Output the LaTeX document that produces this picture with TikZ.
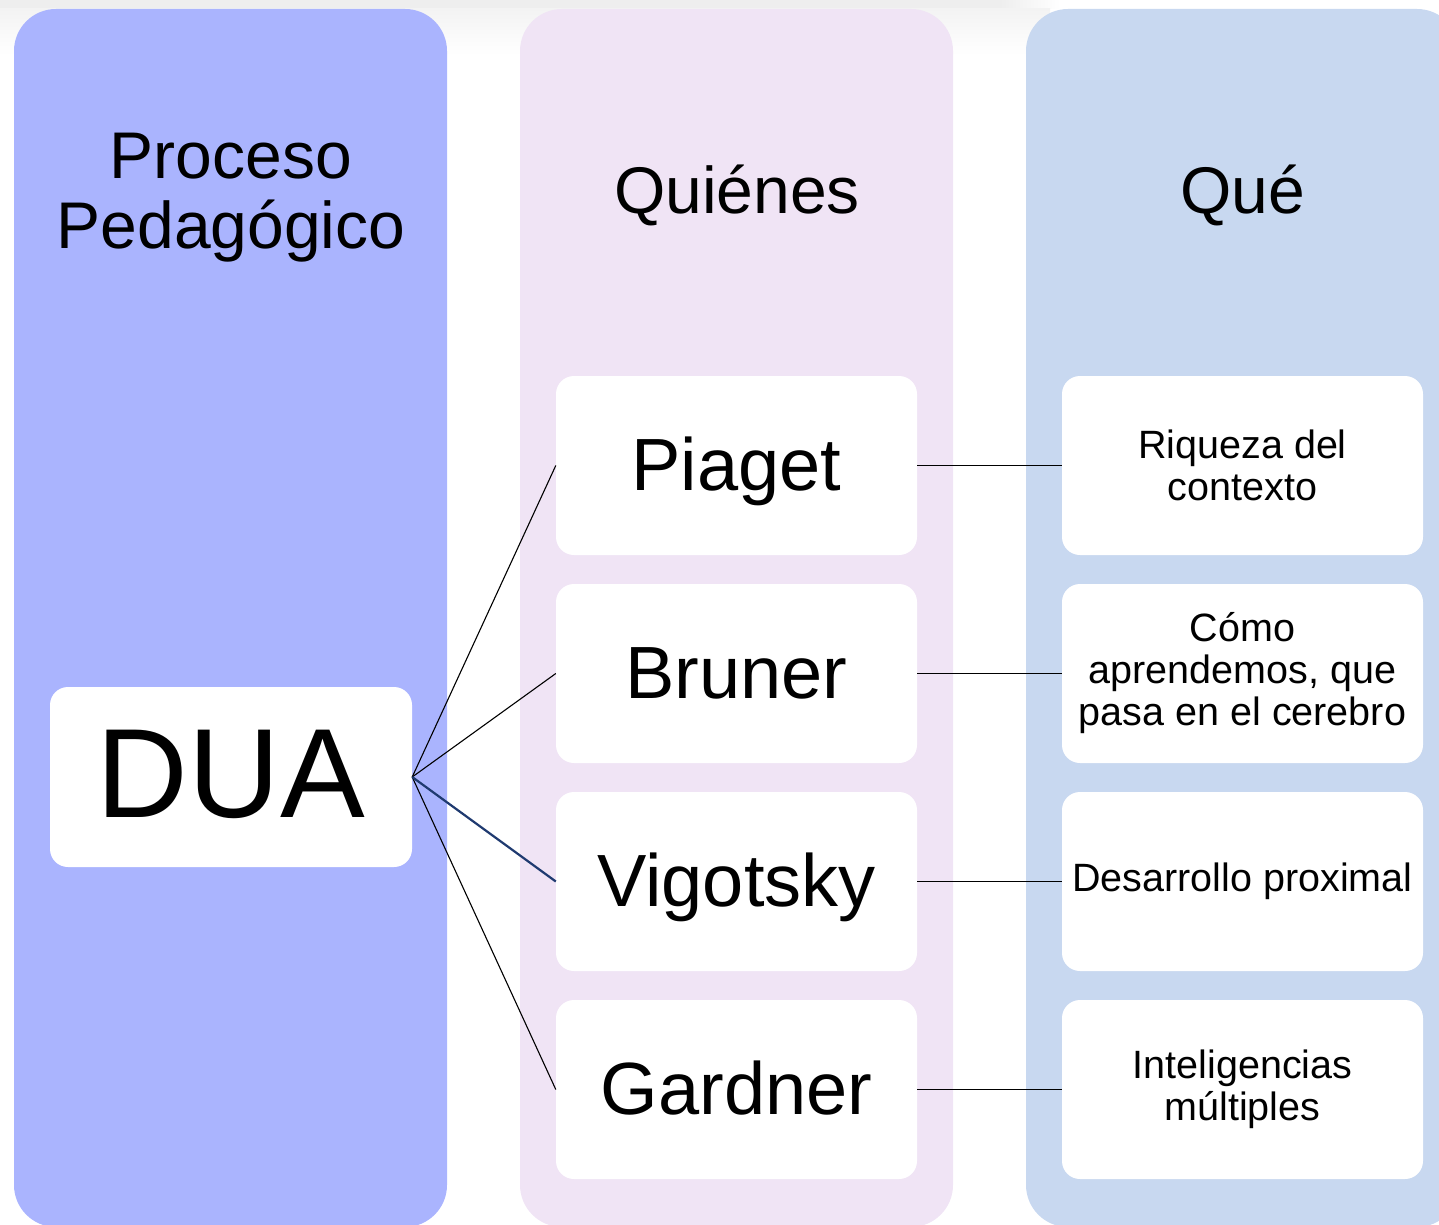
\documentclass[tikz,border=0pt]{standalone}
\usepackage{fontspec}
\setmainfont{Liberation Sans}
\definecolor{colA}{HTML}{AAB4FE}
\definecolor{colB}{HTML}{F0E4F5}
\definecolor{colC}{HTML}{C8D8F0}
\definecolor{shadowgray}{HTML}{EEEEEE}
\definecolor{navyline}{HTML}{1F3A70}
\tikzset{
  column/.style={rounded corners=42pt},
  titletext/.style={font=\fontsize{66}{70}\selectfont, align=center, inner sep=0pt},
  whobox/.style={fill=white, rounded corners=18pt, minimum width=361pt, minimum height=179pt,
    inner sep=0pt, font=\fontsize{74}{80}\selectfont, text height=50pt, text depth=0pt},
  whatbox/.style={fill=white, rounded corners=18pt, minimum width=361pt, minimum height=179pt,
    inner sep=0pt, align=center, font=\fontsize{39.5}{42}\selectfont},
  duabox/.style={fill=white, rounded corners=18pt, minimum width=362pt, minimum height=180pt,
    inner sep=0pt, font=\fontsize{127}{130}\selectfont, text height=91pt, text depth=10pt},
  link/.style={draw=black, line width=1.1pt},
  boldlink/.style={draw=navyline, line width=2.2pt}
}
\begin{document}
\begin{tikzpicture}[x=1pt,y=-1pt]
\useasboundingbox (0,0) rectangle (1439,1225);
\clip (0,0) rectangle (1439,1225);
% top shadow band
\fill[shadowgray] (0,0) rectangle (1000,9);
\shade[left color=shadowgray, right color=white] (1000,0) rectangle (1060,9);
\shade[top color=shadowgray!70, bottom color=white] (0,9) rectangle (1050,55);
% columns
\fill[colA, column] (14,9) rectangle (447,1227);
\fill[colB, column] (520,9) rectangle (953,1227);
\fill[colC, column] (1026,9) rectangle (1459,1227);
% titles
\node[titletext] (t1) at (231,198) {Proceso\\Pedagógico};
\node[titletext, anchor=base] (t2) at (737,213) {Quiénes};
\node[titletext, anchor=base] (t3) at (1243,213) {Qué};
% DUA
\node[duabox] (dua) at (231,777) {DUA};
% who boxes
\node[whobox] (piaget) at (736.5,465.5) {Piaget};
\node[whobox] (bruner) at (736.5,673.5) {Bruner};
\node[whobox] (vigotsky) at (736.5,881.5) {Vigotsky};
\node[whobox] (gardner) at (736.5,1089.5) {Gardner};
% what boxes
\node[whatbox] (riqueza) at (1242.5,465.5) {Riqueza del\\contexto};
\node[whatbox] (como) at (1242.5,673.5) {Cómo\\aprendemos, que\\pasa en el cerebro};
\node[whatbox] (desarrollo) at (1242.5,881.5) {Desarrollo proximal};
\node[whatbox] (inteligencias) at (1242.5,1089.5) {Inteligencias\\múltiples};
% connectors
\draw[link] (dua.east) -- (piaget.west);
\draw[link] (dua.east) -- (bruner.west);
\draw[link] (dua.east) -- (gardner.west);
\draw[boldlink] (dua.east) -- (vigotsky.west);
\draw[link] (piaget.east) -- (riqueza.west);
\draw[link] (bruner.east) -- (como.west);
\draw[link] (vigotsky.east) -- (desarrollo.west);
\draw[link] (gardner.east) -- (inteligencias.west);
\end{tikzpicture}
\end{document}
